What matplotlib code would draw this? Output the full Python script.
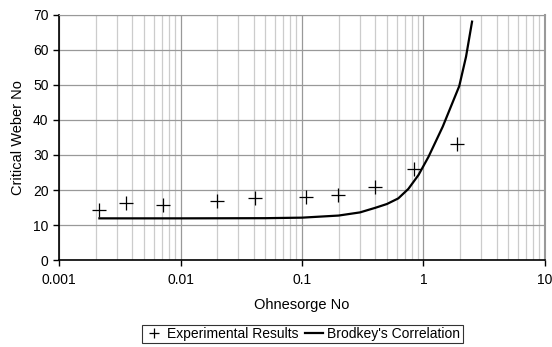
import numpy as np
import matplotlib.pyplot as plt
from matplotlib.ticker import LogLocator, FixedLocator, NullFormatter

plt.rcParams['font.family'] = ['Liberation Sans', 'DejaVu Sans']

# experimental results (Ohnesorge No, critical Weber No)
exp_oh = [0.00215, 0.00356, 0.0072, 0.0201, 0.041, 0.108, 0.199, 0.401, 0.84, 1.89]
exp_we = [14.3, 16.4, 15.7, 16.9, 17.8, 18.0, 18.5, 20.9, 25.9, 33.0]

# Brodkey's correlation
brod_oh = [0.00215, 0.01, 0.05, 0.1, 0.2, 0.3, 0.4, 0.5, 0.62, 0.75, 0.91,
           1.1, 1.44, 1.97, 2.24, 2.51]
brod_we = [11.9, 11.9, 11.95, 12.1, 12.7, 13.6, 14.9, 16.0, 17.6, 20.3, 24.3,
           29.5, 38.1, 49.7, 58.1, 68.1]

fig = plt.figure(figsize=(5.52, 3.47), dpi=100)
ax = fig.add_axes([0.1069, 0.2507, 0.8804, 0.7061])

ax.plot(brod_oh, brod_we, color='black', lw=1.6, label="Brodkey's Correlation", zorder=3)
ax.plot(exp_oh, exp_we, ls='none', marker='+', ms=10, mew=0.9, color='black',
        label='Experimental Results', zorder=4)

ax.set_xscale('log')
ax.set_xlim(0.001, 10)
ax.set_ylim(0, 70)
ax.set_yticks(range(0, 71, 10))
ax.xaxis.set_major_locator(FixedLocator([0.001, 0.01, 0.1, 1, 10]))
ax.set_xticklabels(['0.001', '0.01', '0.1', '1', '10'])
ax.xaxis.set_minor_locator(LogLocator(base=10, subs=np.arange(2, 10)))
ax.xaxis.set_minor_formatter(NullFormatter())

ax.grid(True, which='major', axis='both', color='#999999', lw=0.9)
ax.grid(True, which='minor', axis='x', color='#cccccc', lw=0.9)
ax.set_axisbelow(True)

ax.spines['left'].set_color('black')
ax.spines['bottom'].set_color('black')
ax.spines['left'].set_linewidth(1.2)
ax.spines['bottom'].set_linewidth(1.2)
ax.spines['top'].set_color('#999999')
ax.spines['right'].set_color('#999999')
ax.spines['right'].set_linewidth(1.5)

ax.tick_params(axis='both', which='major', direction='out', length=4, width=1,
               labelsize=10, colors='black')
ax.tick_params(axis='x', which='minor', length=0)
ax.tick_params(axis='x', pad=5)

ax.set_xlabel('Ohnesorge No', fontsize=10.5, labelpad=8)
ax.set_ylabel('Critical Weber No', fontsize=10.5, labelpad=6)

handles, labels = ax.get_legend_handles_labels()
leg = fig.legend(handles[::-1], labels[::-1], loc='center', bbox_to_anchor=(0.548, 0.0375),
                 ncol=2, fontsize=10, frameon=True, fancybox=False, markerscale=0.75,
                 handlelength=1.3, handletextpad=0.3, columnspacing=0.5,
                 borderpad=0.15, borderaxespad=0)
leg.get_frame().set_edgecolor('black')
leg.get_frame().set_linewidth(0.8)

plt.savefig('out.png', dpi=100)
